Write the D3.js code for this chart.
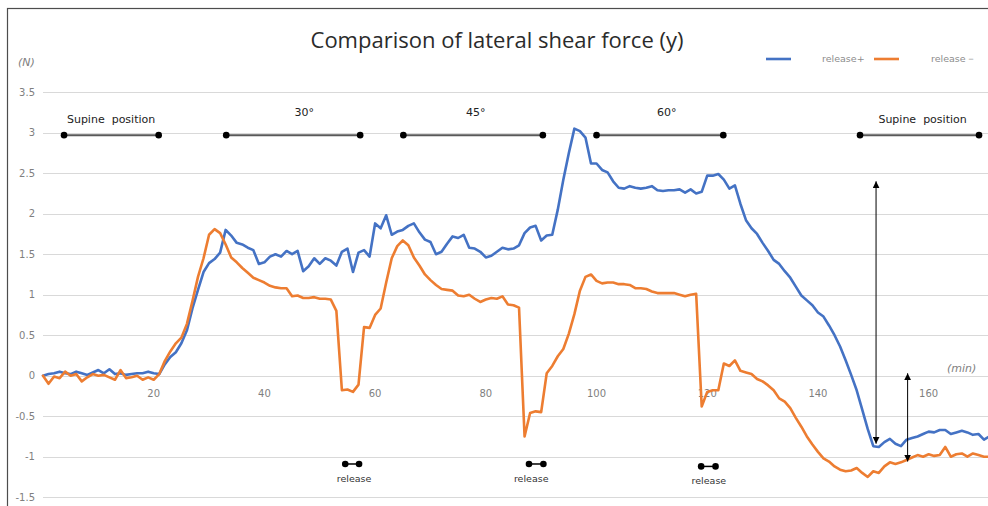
<!DOCTYPE html>
<html>
<head>
<meta charset="utf-8">
<script src="https://cdn.jsdelivr.net/npm/d3@7/dist/d3.min.js"></script>
<style>
    body { margin: 0; background: #fff; }
    svg { display: block; }
    .grid-line { stroke: #d9d9d9; stroke-width: 1; shape-rendering: crispEdges; }
    .tick-label { fill: #7f7f7f; font-family: "DejaVu Sans", sans-serif; font-size: 10px; }
    .unit-label { fill: #7f7f7f; font-family: "DejaVu Sans", sans-serif; font-size: 11px; font-style: italic; }
    .phase-label { fill: #222; font-family: "DejaVu Sans", sans-serif; font-size: 11px; }
    .release-label { fill: #333; font-family: "DejaVu Sans", sans-serif; font-size: 9.5px; }
    .legend-label { fill: #8c8c8c; font-family: "DejaVu Sans", sans-serif; font-size: 9.5px; }
    .series { fill: none; stroke-width: 2.6; stroke-linejoin: round; stroke-linecap: round; }
</style>
</head>
<body>
<script>
// one reading per minute, 0 .. 171 min
var minutes = d3.range(0, 172);

// release+ (blue), N
var releasePlus = [
    0.00, 0.02, 0.03, 0.05, 0.03, 0.02, 0.05, 0.03, 0.01, 0.04,
    0.07, 0.03, 0.08, 0.02, 0.03, 0.01, 0.02, 0.03, 0.03, 0.05,
    0.03, 0.02, 0.14, 0.23, 0.29, 0.40, 0.56, 0.83, 1.06, 1.28,
    1.39, 1.44, 1.52, 1.80, 1.73, 1.64, 1.62, 1.58, 1.55, 1.38,
    1.40, 1.47, 1.50, 1.47, 1.54, 1.50, 1.54, 1.29, 1.35, 1.45,
    1.38, 1.45, 1.42, 1.36, 1.53, 1.57, 1.28, 1.52, 1.55, 1.47,
    1.88, 1.82, 1.98, 1.74, 1.78, 1.80, 1.85, 1.88, 1.77, 1.68,
    1.65, 1.50, 1.53, 1.63, 1.72, 1.70, 1.74, 1.58, 1.57, 1.53,
    1.46, 1.48, 1.53, 1.58, 1.56, 1.57, 1.61, 1.76, 1.83, 1.85,
    1.67, 1.73, 1.74, 2.05, 2.42, 2.75, 3.05, 3.02, 2.94, 2.62,
    2.62, 2.54, 2.51, 2.40, 2.32, 2.31, 2.34, 2.32, 2.31, 2.32,
    2.34, 2.29, 2.28, 2.29, 2.29, 2.30, 2.26, 2.30, 2.25, 2.27,
    2.47, 2.47, 2.49, 2.42, 2.31, 2.35, 2.12, 1.92, 1.82, 1.75,
    1.64, 1.54, 1.43, 1.38, 1.29, 1.21, 1.10, 0.99, 0.93, 0.87,
    0.78, 0.73, 0.62, 0.50, 0.36, 0.19, 0.01, -0.18, -0.42, -0.66,
    -0.87, -0.88, -0.82, -0.78, -0.84, -0.87, -0.79, -0.77, -0.75, -0.72,
    -0.69, -0.70, -0.67, -0.67, -0.72, -0.70, -0.68, -0.70, -0.73, -0.72,
    -0.79, -0.75
];

// release- (orange), N
var releaseMinus = [
    0.00, -0.10, -0.01, -0.03, 0.05, 0.00, 0.02, -0.07, -0.02, 0.02,
    0.00, 0.01, -0.02, -0.05, 0.07, -0.03, -0.02, 0.00, -0.05, -0.02,
    -0.05, 0.02, 0.18, 0.30, 0.40, 0.47, 0.64, 0.92, 1.22, 1.45,
    1.74, 1.81, 1.76, 1.62, 1.46, 1.40, 1.33, 1.27, 1.21, 1.18,
    1.15, 1.11, 1.09, 1.08, 1.08, 0.98, 0.99, 0.96, 0.96, 0.97,
    0.95, 0.95, 0.94, 0.80, -0.18, -0.17, -0.20, -0.11, 0.60, 0.59,
    0.75, 0.83, 1.15, 1.45, 1.60, 1.67, 1.61, 1.46, 1.36, 1.25,
    1.18, 1.12, 1.07, 1.06, 1.05, 0.99, 0.98, 1.00, 0.95, 0.91,
    0.94, 0.96, 0.95, 0.98, 0.88, 0.87, 0.84, -0.75, -0.46, -0.44,
    -0.45, 0.03, 0.12, 0.24, 0.33, 0.52, 0.76, 1.05, 1.22, 1.25,
    1.17, 1.14, 1.15, 1.15, 1.13, 1.13, 1.12, 1.08, 1.08, 1.07,
    1.04, 1.02, 1.02, 1.02, 1.02, 1.00, 0.98, 1.00, 1.01, -0.38,
    -0.20, -0.18, -0.18, 0.15, 0.12, 0.19, 0.06, 0.04, 0.02, -0.04,
    -0.07, -0.12, -0.18, -0.28, -0.32, -0.40, -0.52, -0.63, -0.75, -0.85,
    -0.94, -1.02, -1.06, -1.12, -1.16, -1.18, -1.17, -1.14, -1.20, -1.25,
    -1.18, -1.20, -1.12, -1.07, -1.09, -1.07, -1.04, -1.01, -0.98, -1.00,
    -0.97, -0.99, -0.98, -0.88, -1.00, -0.97, -0.96, -1.00, -0.96, -0.98,
    -1.00, -1.00
];

var yTicks = [-1.5, -1, -0.5, 0, 0.5, 1, 1.5, 2, 2.5, 3, 3.5];
var xTicks = [20, 40, 60, 80, 100, 120, 140, 160];

// posture phases (min)
var phaseLabels = ["Supine\u00a0\u00a0position", "30°", "45°", "60°", "Supine\u00a0\u00a0position"];
var phaseStart = [3.8, 33.1, 65.1, 100.0, 147.6];
var phaseEnd = [20.9, 57.3, 90.3, 122.9, 169.1];
var phaseLabelAt = [12.3, 47.2, 78.2, 112.7, 158.9];
var phaseLevel = 2.97;

// release periods (min)
var releaseStart = [54.6, 87.8, 118.9];
var releaseEnd = [57.1, 90.4, 121.5];
var releaseLabelAt = [56.2, 88.2, 120.3];
var releaseLevel = [-1.09, -1.09, -1.12];

// double arrows (min, N)
var arrowAt = [150.5, 156.2];
var arrowTop = [2.40, 0.03];
var arrowBottom = [-0.84, -1.06];

var seriesNames = ["release+", "release\uff0d"];
var seriesColors = ["#4472c4", "#ed7d31"];

var _width = 988, _height = 506;

var _x = d3.scaleLinear().domain([0, 170]).range([43, 984]);
var _y = d3.scaleLinear().domain([-1.5, 3.5]).range([497.2, 92.2]);

var _svg = d3.select("body").append("svg")
    .attr("width", _width)
    .attr("height", _height);

// frame of the original figure
_svg.append("rect")
    .attr("x", 7.5).attr("y", 8.5)
    .attr("width", 1000).attr("height", 600)
    .attr("fill", "none")
    .attr("stroke", "#4d4d4d")
    .attr("stroke-width", 1.2);

// arrowhead markers
var defs = _svg.append("defs");
defs.append("marker")
    .attr("id", "arrow-end")
    .attr("viewBox", "0 0 10 10")
    .attr("refX", 10).attr("refY", 5)
    .attr("markerWidth", 7).attr("markerHeight", 7)
    .attr("markerUnits", "userSpaceOnUse")
    .attr("orient", "auto")
    .append("path")
    .attr("d", "M0,0L10,5L0,10Z")
    .attr("fill", "#000");
defs.append("marker")
    .attr("id", "arrow-start")
    .attr("viewBox", "0 0 10 10")
    .attr("refX", 0).attr("refY", 5)
    .attr("markerWidth", 7).attr("markerHeight", 7)
    .attr("markerUnits", "userSpaceOnUse")
    .attr("orient", "auto")
    .append("path")
    .attr("d", "M10,0L0,5L10,10Z")
    .attr("fill", "#000");

renderTitle();
renderAxes();
renderPhases();
renderSeries();
renderReleases();
renderArrows();
renderLegend();

function renderTitle() {
    _svg.append("text")
        .attr("x", 497)
        .attr("y", 48)
        .attr("text-anchor", "middle")
        .attr("fill", "#2b2b2b")
        .attr("font-family", "'Open Sans', sans-serif")
        .attr("font-size", "22px")
        .text("Comparison of lateral shear force (y)");
}

function renderAxes() {
    var axesG = _svg.append("g").attr("class", "axes");

    // horizontal grid lines
    axesG.selectAll("line.grid-line")
        .data(yTicks)
        .enter().append("line")
        .attr("class", "grid-line")
        .attr("x1", _x(0))
        .attr("x2", _width)
        .attr("y1", function (d) { return Math.round(_y(d)) + 0.5; })
        .attr("y2", function (d) { return Math.round(_y(d)) + 0.5; });

    // y labels
    axesG.selectAll("text.y-label")
        .data(yTicks)
        .enter().append("text")
        .attr("class", "tick-label y-label")
        .attr("x", 35)
        .attr("y", function (d) { return _y(d); })
        .attr("dy", "0.35em")
        .attr("text-anchor", "end")
        .text(function (d) { return d; });

    // x labels sit just under the zero line
    axesG.selectAll("text.x-label")
        .data(xTicks)
        .enter().append("text")
        .attr("class", "tick-label x-label")
        .attr("x", function (d) { return _x(d); })
        .attr("y", _y(0) + 21)
        .attr("text-anchor", "middle")
        .text(function (d) { return d; });

    axesG.append("text")
        .attr("class", "unit-label")
        .attr("x", 18).attr("y", 66)
        .text("(N)");

    axesG.append("text")
        .attr("class", "unit-label")
        .attr("x", 947).attr("y", 372)
        .text("(min)");
}

function renderPhases() {
    var g = _svg.append("g").attr("class", "phases");
    var idx = d3.range(phaseLabels.length);

    g.selectAll("line")
        .data(idx)
        .enter().append("line")
        .attr("x1", function (i) { return _x(phaseStart[i]); })
        .attr("x2", function (i) { return _x(phaseEnd[i]); })
        .attr("y1", _y(phaseLevel))
        .attr("y2", _y(phaseLevel))
        .attr("stroke", "#595959")
        .attr("stroke-width", 2);

    idx.forEach(function (i) {
        [phaseStart[i], phaseEnd[i]].forEach(function (t) {
            g.append("circle")
                .attr("cx", _x(t))
                .attr("cy", _y(phaseLevel))
                .attr("r", 3.3)
                .attr("fill", "#000");
        });
    });

    g.selectAll("text")
        .data(idx)
        .enter().append("text")
        .attr("class", "phase-label")
        .attr("x", function (i) { return _x(phaseLabelAt[i]); })
        .attr("y", function (i) { return _y(phaseLevel) - (phaseLabels[i].length > 4 ? 12 : 19); })
        .attr("text-anchor", "middle")
        .text(function (i) { return phaseLabels[i]; });
}

function renderSeries() {
    var g = _svg.append("g").attr("class", "body");
    [releasePlus, releaseMinus].forEach(function (values, k) {
        var line = d3.line()
            .x(function (d, i) { return _x(minutes[i]); })
            .y(function (d) { return _y(d); });
        g.append("path")
            .datum(values)
            .attr("class", "series")
            .attr("stroke", seriesColors[k])
            .attr("d", line);
    });
}

function renderReleases() {
    var g = _svg.append("g").attr("class", "releases");
    releaseStart.forEach(function (t0, i) {
        var t1 = releaseEnd[i], yy = _y(releaseLevel[i]);
        g.append("line")
            .attr("x1", _x(t0)).attr("x2", _x(t1))
            .attr("y1", yy).attr("y2", yy)
            .attr("stroke", "#000").attr("stroke-width", 1.5);
        [t0, t1].forEach(function (t) {
            g.append("circle")
                .attr("cx", _x(t)).attr("cy", yy)
                .attr("r", 3.3).attr("fill", "#000");
        });
        g.append("text")
            .attr("class", "release-label")
            .attr("x", _x(releaseLabelAt[i]))
            .attr("y", yy + 18)
            .attr("text-anchor", "middle")
            .text("release");
    });
}

function renderArrows() {
    var g = _svg.append("g").attr("class", "arrows");
    arrowAt.forEach(function (t, i) {
        g.append("line")
            .attr("x1", _x(t)).attr("x2", _x(t))
            .attr("y1", _y(arrowTop[i]))
            .attr("y2", _y(arrowBottom[i]))
            .attr("stroke", "#000")
            .attr("stroke-width", 1)
            .attr("marker-start", "url(#arrow-start)")
            .attr("marker-end", "url(#arrow-end)");
    });
}

function renderLegend() {
    var g = _svg.append("g").attr("class", "legend");
    var lineX = [766, 874], textX = [822, 931];
    seriesNames.forEach(function (name, i) {
        g.append("line")
            .attr("x1", lineX[i]).attr("x2", lineX[i] + 25)
            .attr("y1", 59).attr("y2", 59)
            .attr("stroke", seriesColors[i])
            .attr("stroke-width", 2.6);
        g.append("text")
            .attr("class", "legend-label")
            .attr("x", textX[i]).attr("y", 62)
            .text(name);
    });
}
</script>
</body>
</html>
